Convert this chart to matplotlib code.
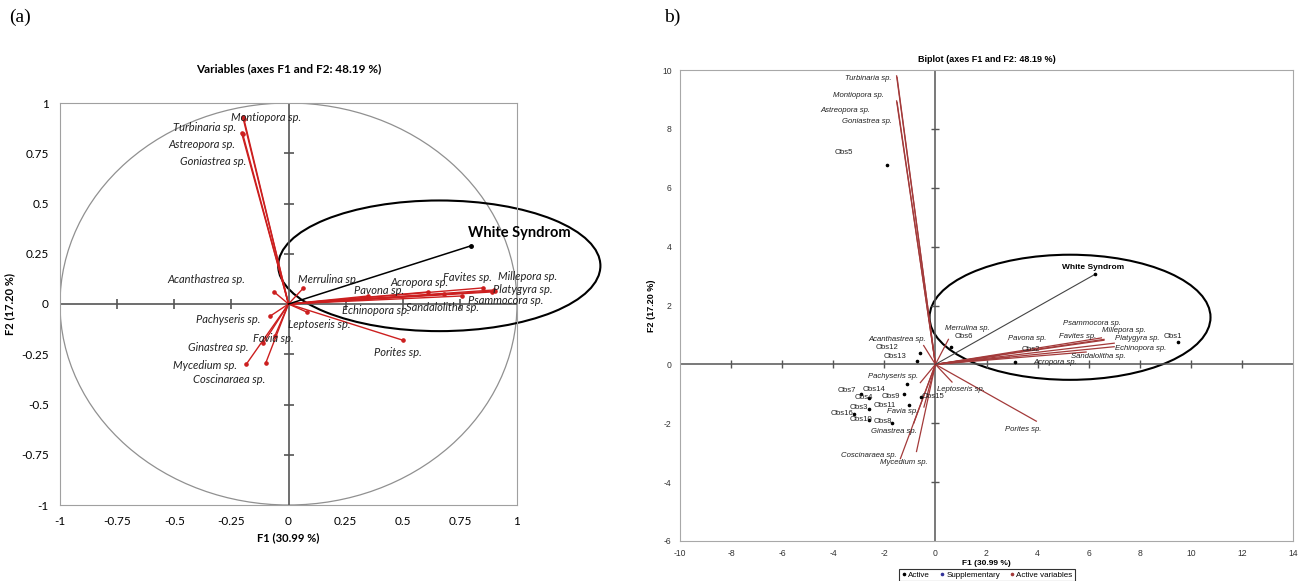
import numpy as np
import matplotlib.pyplot as plt
from matplotlib.patches import Ellipse, Circle

plt.rcParams['axes.unicode_minus'] = False

# ---- data: left panel (correlation circle) ----
species = ['Montiopora sp.', 'Turbinaria sp.', 'Astreopora sp.', 'Goniastrea sp.',
           'Acanthastrea sp.', 'Merrulina sp.', 'Pachyseris sp.', 'Favia sp.',
           'Ginastrea sp.', 'Mycedium sp.', 'Coscinaraea sp.', 'Leptoseris sp.',
           'Porites sp.', 'Pavona sp.', 'Acropora sp.', 'Echinopora sp.',
           'Sandalolitha sp.', 'Favites sp.', 'Millepora sp.', 'Platygyra sp.',
           'Psammocora sp.']
left_f1 = [-0.20, -0.205, -0.195, -0.20, -0.064, 0.064, -0.08, -0.06, -0.11, -0.185, -0.10,
           0.08, 0.50, 0.35, 0.61, 0.76, 0.68, 0.85, 0.90, 0.905, 0.89]
left_f2 = [0.93, 0.85, 0.92, 0.845, 0.061, 0.078, -0.06, -0.16, -0.195, -0.30, -0.295,
           -0.04, -0.18, 0.04, 0.06, 0.04, 0.05, 0.08, 0.07, 0.065, 0.06]
ws_left = (0.80, 0.29)

# label positions (layout)
left_lab_x = [-0.097, -0.367, -0.381, -0.33, -0.36, 0.172, -0.262, -0.068, -0.309, -0.367, -0.258,
              0.135, 0.48, 0.397, 0.572, 0.383, 0.674, 0.783, 1.045, 1.023, 0.95]
left_lab_y = [0.93, 0.877, 0.795, 0.71, 0.12, 0.123, -0.076, -0.171, -0.216, -0.308, -0.378,
              -0.10, -0.239, 0.065, 0.108, -0.03, -0.018, 0.133, 0.136, 0.07, 0.016]

# ---- data: right panel (biplot) ----
right_f1 = [-1.50, -1.52, -1.52, -1.50, -0.46, 0.51, -0.59, -0.45, -0.85, -0.74, -1.37,
            0.65, 3.95, 2.5, 2.9, 7.0, 5.9, 6.6, 6.6, 7.0, 6.5]
right_f2 = [9.75, 9.8, 8.95, 8.9, 0.64, 0.85, -0.62, -1.45, -2.0, -2.96, -3.2,
            -0.6, -1.93, 0.3, 0.25, 0.6, 0.42, 0.85, 0.82, 0.72, 0.9]
ws_right = (6.25, 3.06)
right_lab_x = [-3.01, -2.62, -3.52, -2.66, -1.49, 1.25, -1.64, -1.29, -1.64, -1.25, -2.62,
               0.98, 3.44, 3.6, 4.7, 8.02, 6.38, 5.56, 7.36, 7.9, 6.14]
right_lab_y = [9.14, 9.71, 8.63, 8.25, 0.85, 1.22, -0.41, -1.6, -2.28, -3.33, -3.09,
               -0.85, -2.21, 0.88, 0.07, 0.54, 0.27, 0.95, 1.15, 0.88, 1.39]

obs = ['Obs1', 'Obs2', 'Obs3', 'Obs4', 'Obs5', 'Obs6', 'Obs7', 'Obs8', 'Obs9', 'Obs10',
       'Obs11', 'Obs12', 'Obs13', 'Obs14', 'Obs15', 'Obs16']
obs_f1 = [9.5, 3.1, -2.6, -2.6, -1.89, 0.6, -2.9, -1.7, -1.24, -2.6, -1.04, -0.59, -0.74, -1.13, -0.56, -3.2]
obs_f2 = [0.75, 0.08, -1.5, -1.15, 6.77, 0.6, -1.0, -2.0, -1.0, -1.9, -1.39, 0.39, 0.12, -0.66, -1.11, -1.7]
obs_lab_x = [9.3, 3.72, -3.0, -2.8, -3.6, 1.1, -3.45, -2.04, -1.76, -2.9, -2.0, -1.88, -1.57, -2.4, -0.08, -3.65]
obs_lab_y = [0.95, 0.51, -1.45, -1.13, 7.2, 0.95, -0.88, -1.94, -1.09, -1.86, -1.39, 0.58, 0.27, -0.86, -1.09, -1.68]

fig = plt.figure(figsize=(13.04, 5.81), dpi=100)

# ================= (a) =================
ax1 = fig.add_axes([60/1304, 1-505/581, 457/1304, 402/581])
ax1.set_xlim(-1, 1)
ax1.set_ylim(-1, 1)
for s in ax1.spines.values():
    s.set_color('#a0a0a0')
ax1.add_patch(Circle((0, 0), 1, fill=False, ec='#909090', lw=0.9))
ax1.axhline(0, color='#555555', lw=1.2)
ax1.axvline(0, color='#555555', lw=1.2)
ticks1 = [-1, -0.75, -0.5, -0.25, 0, 0.25, 0.5, 0.75, 1]
tl1 = ['-1', '-0.75', '-0.5', '-0.25', '0', '0.25', '0.5', '0.75', '1']
inner = [t for t in ticks1 if t not in (-1, 0, 1)]
ax1.plot(inner, [0]*len(inner), ls='none', marker='|', ms=7, color='#555555', mew=1.2)
ax1.plot([0]*len(inner), inner, ls='none', marker='_', ms=7, color='#555555', mew=1.2)
ax1.set_xticks(ticks1, tl1)
ax1.set_yticks(ticks1, tl1)
ax1.tick_params(length=0, labelsize=8.5, pad=8)
for lab in ax1.get_xticklabels() + ax1.get_yticklabels():
    lab.set_family('Lato')

for x, y in zip(left_f1, left_f2):
    ax1.plot([0, x], [0, y], color='#cc1f1f', lw=1.0)
    ax1.plot(x, y, 'o', color='#cc1f1f', ms=2.3)
for name, lx, ly in zip(species, left_lab_x, left_lab_y):
    ax1.text(lx, ly, name, ha='center', va='center', fontsize=8, style='italic',
             family='Lato', color='#222222', clip_on=False)
ax1.plot([0, ws_left[0]], [0, ws_left[1]], color='black', lw=1.1)
ax1.plot(*ws_left, 'o', color='black', ms=2.5)
ax1.text(1.01, 0.352, 'White Syndrom', ha='center', va='center', fontsize=10.5,
         fontweight='bold', family='Lato', clip_on=False)
ax1.add_patch(Ellipse((0.66, 0.19), 1.41, 0.65, fill=False, ec='black', lw=1.5, clip_on=False))
ax1.set_title('Variables (axes F1 and F2: 48.19 %)', fontsize=8.5, fontweight='bold',
              family='Lato', pad=22)
ax1.set_xlabel('F1 (30.99 %)', fontsize=8, fontweight='bold', family='Lato', labelpad=4)
ax1.set_ylabel('F2 (17.20 %)', fontsize=8, fontweight='bold', family='Lato', labelpad=4)

# ================= (b) =================
ax2 = fig.add_axes([680/1304, 1-541/581, 613/1304, 471/581])
ax2.set_xlim(-10, 14)
ax2.set_ylim(-6, 10)
for s in ax2.spines.values():
    s.set_color('#a8a8a8')
ax2.axhline(0, color='#555555', lw=1.1)
ax2.axvline(0, color='#555555', lw=1.1)
xt2 = list(range(-10, 15, 2))
yt2 = list(range(-6, 11, 2))
xin = [t for t in xt2 if t not in (-10, 0, 14)]
yin = [t for t in yt2 if t not in (-6, 0, 10)]
ax2.plot(xin, [0]*len(xin), ls='none', marker='|', ms=6, color='#555555', mew=1)
ax2.plot([0]*len(yin), yin, ls='none', marker='_', ms=6, color='#555555', mew=1)
ax2.set_xticks(xt2)
ax2.set_yticks(yt2)
ax2.tick_params(length=0, labelsize=6.2, pad=6, labelcolor='#333333')
for lab in ax2.get_xticklabels() + ax2.get_yticklabels():
    lab.set_family('Liberation Sans')

for x, y in zip(right_f1, right_f2):
    ax2.plot([0, x], [0, y], color='#a33a3a', lw=0.9)
for name, lx, ly in zip(species, right_lab_x, right_lab_y):
    ax2.text(lx, ly, name, ha='center', va='center', fontsize=5.6, style='italic',
             family='Liberation Sans', color='#222222')
ax2.plot(obs_f1, obs_f2, 'o', color='black', ms=1.6, ls='none')
for name, lx, ly in zip(obs, obs_lab_x, obs_lab_y):
    ax2.text(lx, ly, name, ha='center', va='center', fontsize=5.6,
             family='Liberation Sans', color='#222222')
ax2.plot([0, ws_right[0]], [0, ws_right[1]], color='#444444', lw=0.8)
ax2.plot(*ws_right, 'o', color='black', ms=1.6)
ax2.text(6.18, 3.3, 'White Syndrom', ha='center', va='center', fontsize=6,
         fontweight='bold', family='Liberation Sans')
ax2.add_patch(Ellipse((5.27, 1.6), 11.0, 4.25, fill=False, ec='black', lw=1.5))
ax2.set_title('Biplot (axes F1 and F2: 48.19 %)', fontsize=6.5, fontweight='bold',
              family='Liberation Sans', pad=6)
ax2.set_xlabel('F1 (30.99 %)', fontsize=6, fontweight='bold', family='Liberation Sans', labelpad=1)
ax2.set_ylabel('F2 (17.20 %)', fontsize=6.5, fontweight='bold', family='Liberation Sans', labelpad=4)

h1, = ax2.plot([], [], 'o', color='black', ms=1.6, ls='none')
h2, = ax2.plot([], [], 'o', color='#333399', ms=1.6, ls='none')
h3, = ax2.plot([], [], 'o', color='#a33a3a', ms=1.6, ls='none')
leg = fig.legend([h1, h2, h3], ['Active', 'Supplementary', 'Active variables'],
                 loc='center', bbox_to_anchor=(987/1304, 1-575/581), ncol=3,
                 frameon=True, fancybox=False, handlelength=0.6,
                 handletextpad=0.2, columnspacing=1.2, borderpad=0.3,
                 prop={'family': 'Liberation Sans', 'size': 5.8})
leg.get_frame().set_edgecolor('black')
leg.get_frame().set_linewidth(0.8)

fig.text(20/1304, 1-17/581, '(a)', fontsize=14, family='Liberation Serif', ha='center', va='center')
fig.text(672/1304, 1-17/581, 'b)', fontsize=14, family='Liberation Serif', ha='center', va='center')

fig.savefig('out.png', dpi=100)
